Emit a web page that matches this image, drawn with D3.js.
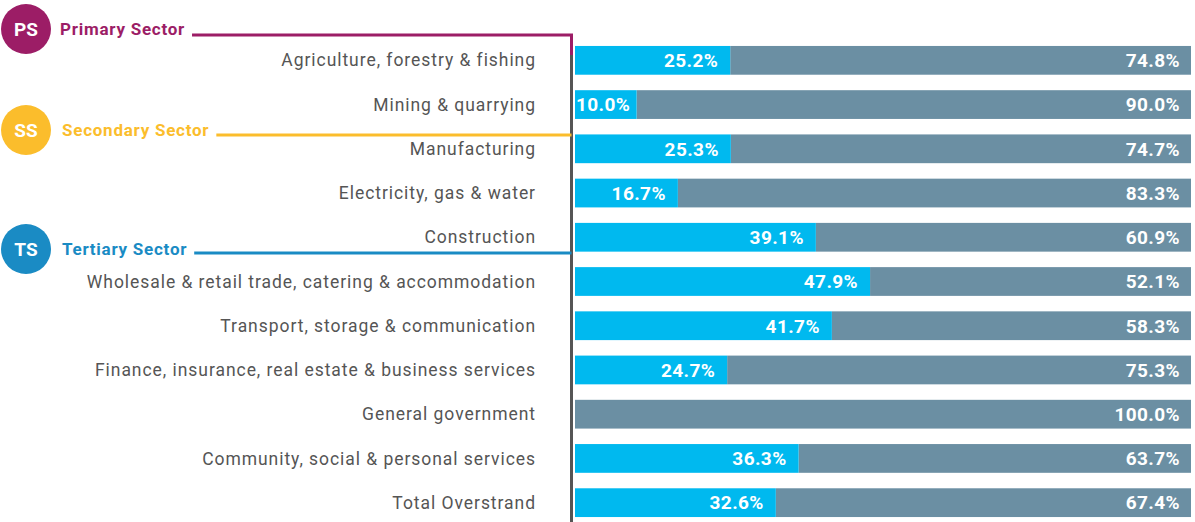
<!DOCTYPE html>
<html>
<head>
<meta charset="utf-8">
<script src="https://cdn.jsdelivr.net/npm/d3@7"></script>
<style>
  body { margin: 0; background: #fff; }
  svg { display: block; font-family: Roboto, "Noto Sans", sans-serif; }
</style>
</head>
<body>
<div id="chart"></div>
<script>
// Categories and the two shares (percent)
const categories = [
  "Agriculture, forestry & fishing",
  "Mining & quarrying",
  "Manufacturing",
  "Electricity, gas & water",
  "Construction",
  "Wholesale & retail trade, catering & accommodation",
  "Transport, storage & communication",
  "Finance, insurance, real estate & business services",
  "General government",
  "Community, social & personal services",
  "Total Overstrand"
];
const shareA = [25.2, 10.0, 25.3, 16.7, 39.1, 47.9, 41.7, 24.7, 0, 36.3, 32.6];
const shareB = [74.8, 90.0, 74.7, 83.3, 60.9, 52.1, 58.3, 75.3, 100.0, 63.7, 67.4];

// Sector markers
const sectorCodes = ["PS", "SS", "TS"];
const sectorNames = ["Primary Sector", "Secondary Sector", "Tertiary Sector"];

const width = 1195, height = 522;
const colA = "#00b9ef", colB = "#6b8fa3";
const sectorColors = ["#9c1d66", "#fbbd2c", "#1a8bc4"];

const svg = d3.select("#chart").append("svg")
  .attr("width", width).attr("height", height);

const x = d3.scaleLinear().domain([0, 100]).range([575, 1191]);
const y = d3.scaleBand().domain(categories).range([38, 525]).paddingInner(0.35).paddingOuter(0.18);
const idx = d => categories.indexOf(d);

// rows
const rows = svg.append("g").selectAll("g").data(categories).enter().append("g")
  .attr("transform", d => `translate(0,${y(d)})`);

rows.append("rect")
  .attr("x", d => x(shareA[idx(d)]))
  .attr("width", d => x(shareA[idx(d)] + shareB[idx(d)]) - x(shareA[idx(d)]))
  .attr("height", y.bandwidth())
  .attr("fill", colB);

rows.append("rect")
  .attr("x", x(0))
  .attr("width", d => x(shareA[idx(d)]) - x(0))
  .attr("height", y.bandwidth())
  .attr("fill", colA);

rows.append("text")
  .attr("x", 536).attr("y", y.bandwidth() / 2)
  .attr("dy", "0.35em").attr("text-anchor", "end")
  .attr("font-size", 17.5).attr("letter-spacing", 0.95).attr("fill", "#555")
  .text(d => d);

// value labels
rows.filter(d => shareA[idx(d)] > 0).append("text")
  .attr("x", d => shareA[idx(d)] < 12 ? x(0) + 1 : x(shareA[idx(d)]) - 12)
  .attr("text-anchor", d => shareA[idx(d)] < 12 ? "start" : "end")
  .attr("y", y.bandwidth() / 2).attr("dy", "0.36em")
  .attr("font-size", 19).attr("font-weight", "bold").attr("letter-spacing", 0.4).attr("fill", "#fff")
  .text(d => shareA[idx(d)].toFixed(1) + "%");

rows.append("text")
  .attr("x", d => x(shareA[idx(d)] + shareB[idx(d)]) - 11)
  .attr("text-anchor", "end")
  .attr("y", y.bandwidth() / 2).attr("dy", "0.36em")
  .attr("font-size", 19).attr("font-weight", "bold").attr("letter-spacing", 0.4).attr("fill", "#fff")
  .text(d => shareB[idx(d)].toFixed(1) + "%");

// vertical axis line
const axisX = 571.5;
svg.append("line")
  .attr("x1", axisX).attr("x2", axisX)
  .attr("y1", 55).attr("y2", height)
  .attr("stroke", "#555").attr("stroke-width", 3);

// sector markers
const markerY = [29, 130, 249];
const lineY = [35, 135, 253];
const nameX = [60, 62, 62];
const sec = svg.append("g").selectAll("g").data(sectorCodes).enter().append("g");

sec.append("circle")
  .attr("cx", 26).attr("cy", (d, i) => markerY[i]).attr("r", 25)
  .attr("fill", (d, i) => sectorColors[i]);

sec.append("text")
  .attr("x", 26).attr("y", (d, i) => markerY[i]).attr("dy", "0.36em")
  .attr("text-anchor", "middle").attr("font-size", 19).attr("font-weight", "bold")
  .attr("fill", "#fff")
  .text(d => d);

const names = sec.append("text")
  .attr("x", (d, i) => nameX[i]).attr("y", (d, i) => markerY[i]).attr("dy", "0.36em")
  .attr("font-size", 17).attr("font-weight", "bold").attr("letter-spacing", 0.75)
  .attr("fill", (d, i) => sectorColors[i])
  .text((d, i) => sectorNames[i]);

names.each(function(d, i) {
  const w = this.getComputedTextLength();
  const x0 = nameX[i] + w + 7;
  const path = i === 0
    ? `M${x0},${lineY[i]}H${axisX}V55`
    : `M${x0},${lineY[i]}H${axisX}`;
  svg.append("path")
    .attr("d", path)
    .attr("fill", "none")
    .attr("stroke", sectorColors[i]).attr("stroke-width", 3);
});
</script>
</body>
</html>
